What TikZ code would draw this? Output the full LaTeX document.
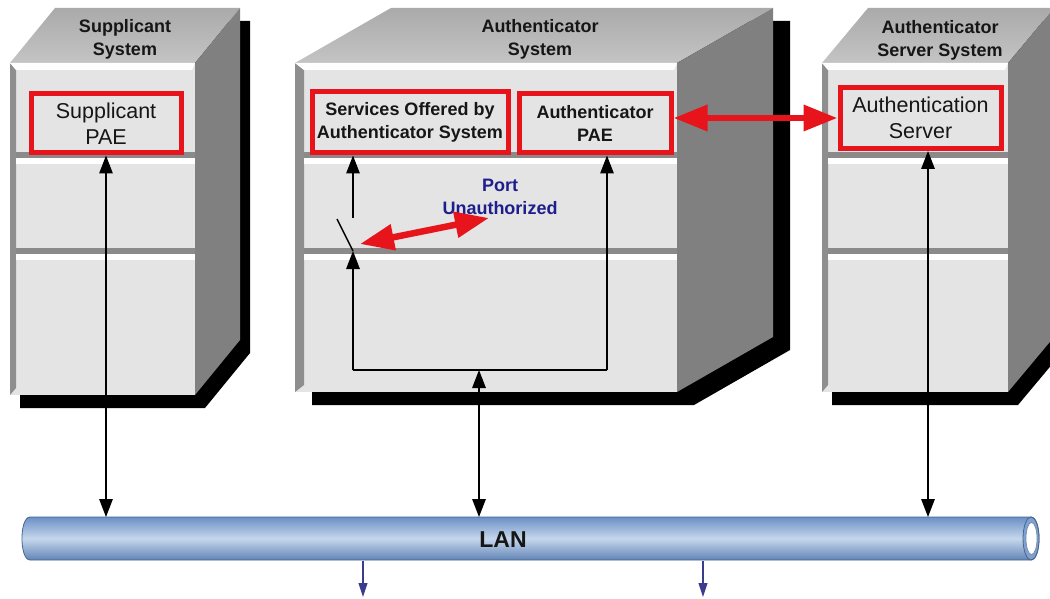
\documentclass[tikz,border=0pt]{standalone}
\usepackage{fontspec}
\setmainfont{Liberation Sans}
\usetikzlibrary{arrows.meta,calc}

\definecolor{frontc}{HTML}{E4E4E4}
\definecolor{topdark}{HTML}{AAAAAA}
\definecolor{toplight}{HTML}{C4C4C4}
\definecolor{sidec}{HTML}{808080}
\definecolor{bevelc}{HTML}{8E8E8E}
\definecolor{divc}{HTML}{8A8A8A}
\definecolor{boxred}{HTML}{E8141B}
\definecolor{portblue}{HTML}{1E1E8C}
\definecolor{pipedark}{HTML}{6A90C6}
\definecolor{pipelight}{HTML}{C6D7EC}
\definecolor{pipeedge}{HTML}{46648F}
\definecolor{navyarrow}{HTML}{3C3C8C}
\definecolor{inkc}{HTML}{161616}

% One equipment cabinet: #1 front left, #2 front right, #3 depth,
% #4 front bottom, #5 shadow offset, #6 width of the left bevel
\newcommand\cabinet[6]{%
  % drop shadow
  \fill[black] ({#1+#5},76) -- ({#1+#3+#5},21) -- ({#2+#3+#5},21)
    -- ({#2+#3+#5},{#4-42}) -- ({#2+#5},{#4+13}) -- ({#1+#5},{#4+13}) -- cycle;
  % top face
  \shade[top color=topdark, bottom color=toplight]
    (#1,63) -- ({#1+#3},8) -- ({#2+#3},8) -- (#2,63) -- cycle;
  % right face
  \fill[sidec] (#2,63) -- ({#2+#3},8) -- ({#2+#3},{#4-55}) -- (#2,#4) -- cycle;
  % front face
  \fill[frontc] (#1,63) rectangle (#2,#4);
  \fill[bevelc] (#1,63) -- ({#1+#6},70) -- ({#1+#6},{#4-7}) -- (#1,#4) -- cycle;
  \fill[white] (#1,63) -- (#2,63) -- ({#2-3},70) -- ({#1+#6},70) -- cycle;
  % shelf dividers
  \fill[divc] ({#1+#6},152) rectangle (#2,158);
  \fill[white] ({#1+#6},158) rectangle (#2,164);
  \fill[divc] ({#1+#6},248) rectangle (#2,254);
  \fill[white] ({#1+#6},254) rectangle (#2,260);
}

\begin{document}
\begin{tikzpicture}[x=1pt,y=-1pt,
  Blk/.tip={Triangle[length=18pt,width=13.5pt]},
  Red/.tip={Triangle[length=34pt,width=25pt]},
  Nav/.tip={Triangle[length=14pt,width=9pt]},
  redbox/.style={draw=boxred, line width=5pt, fill=frontc, inner sep=0pt,
    align=center, text=inkc},
  ttl/.style={font=\fontsize{18}{23}\selectfont\bfseries, align=center, text=inkc},
  boldlbl/.style={font=\fontsize{18}{23}\selectfont\bfseries},
  plainlbl/.style={font=\fontsize{21.5}{26}\selectfont},
  wire/.style={line width=1.4pt, draw=black},
  twoway/.style={wire, arrows={Blk-Blk}},
  oneway/.style={wire, arrows={-Blk}},
  redarrow/.style={line width=6.5pt, draw=boxred, arrows={Red-Red}},
  outlink/.style={line width=1.1pt, draw=navyarrow, arrows={-Nav}},
]
\useasboundingbox (0,0) rectangle (1050,599);
\clip (0,0) rectangle (1050,599);
\fill[white] (0,0) rectangle (1050,599);

% cabinets
\cabinet{10}{195}{45}{395}{10}{6}
\cabinet{295}{677}{96}{392}{17}{9}
\cabinet{822}{1008}{46}{392}{10}{6}

% cabinet titles
\node[ttl] (supptitle) at (125,39) {Supplicant\\System};
\node[ttl] (authtitle) at (540,39) {Authenticator\\System};
\node[ttl] (srvtitle) at (940,40) {Authenticator\\Server System};

% functional blocks
\node[redbox, plainlbl, minimum width=150pt, minimum height=59pt] (supp)
  at (106,123.5) {Supplicant\\PAE};
\node[redbox, boldlbl, minimum width=196pt, minimum height=61pt] (services)
  at (410,122.5) {Services Offered by\\Authenticator System};
\node[redbox, boldlbl, minimum width=152pt, minimum height=59pt] (authpae)
  at (595,123.5) {Authenticator\\PAE};
\node[redbox, plainlbl, minimum width=161pt, minimum height=61pt] (authsrv)
  at (920.5,118) {Authentication\\Server};

\node[font=\fontsize{18}{23}\selectfont\bfseries, text=portblue, align=center]
  (port) at (500,197) {Port\\Unauthorized};

% LAN pipe
\shadedraw[top color=pipedark, bottom color=pipedark!92!black,
  middle color=pipelight, draw=pipeedge, line width=0.8pt]
  (1031,517) -- (30,517) .. controls (19.3,517) and (19.3,560) .. (30,560)
  -- (1031,560) .. controls (1041.7,560) and (1041.7,517) .. (1031,517) -- cycle;
\filldraw[fill=pipedark!85, draw=pipeedge, line width=0.8pt]
  (1031,538.5) ellipse[x radius=8, y radius=21.5];
\filldraw[fill=white, draw=pipeedge!80, line width=0.6pt]
  (1031.5,538.5) ellipse[x radius=5.5, y radius=16];
\node[font=\fontsize{23}{26}\selectfont\bfseries, text=inkc] (lan) at (503,540) {LAN};

% connection points
\coordinate (pipetop) at (0,517);
\coordinate (srvdrop) at (928,517);
\coordinate (authdrop) at (479,517);
\coordinate (hub) at (479,370);
\coordinate (lj) at (353,370);
\coordinate (rj) at (607,370);
\coordinate (swbot) at (353,251);
\coordinate (swtop) at (353,218);
\coordinate (blade) at (337,219);
\coordinate (pa) at (360,244);
\coordinate (pb) at (489,218);
\coordinate (outA) at (363,561);
\coordinate (outB) at (703,561);

% LAN attachments
\draw[twoway] (supp.south) -- (supp.south |- pipetop);
\draw[twoway] (srvdrop |- authsrv.south) -- (srvdrop);
\draw[twoway] (hub) -- (authdrop);

% authenticator internals
\draw[wire] (lj) -- (rj);
\draw[oneway] (lj) -- (swbot);
\draw[oneway] (rj) -- (rj |- authpae.south);
\draw[oneway] (swtop) -- (swtop |- services.south);
\draw[wire] (blade) -- (swbot);

% control arrows
\draw[redarrow] (pa) -- (pb);
\draw[redarrow] (authpae.east |- authsrv.west) -- (authsrv.west);

% onward LAN links
\draw[outlink] (outA) -- ++(0,36);
\draw[outlink] (outB) -- ++(0,36);
\end{tikzpicture}
\end{document}
